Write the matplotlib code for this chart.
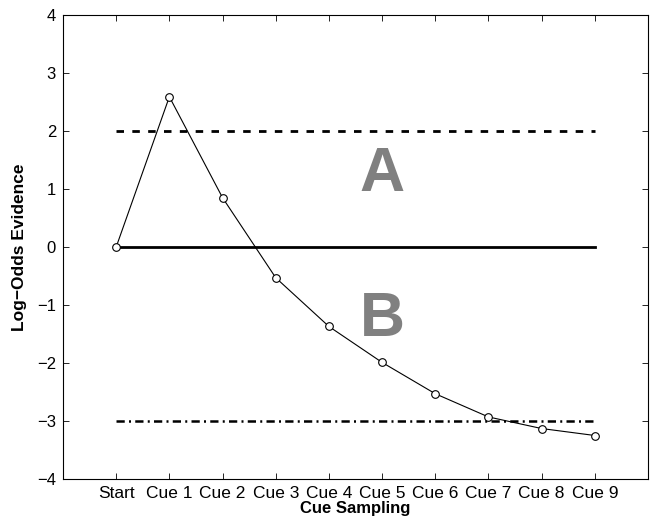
import matplotlib
matplotlib.use("Agg")
import matplotlib.pyplot as plt
import numpy as np

plt.rcParams['font.family'] = ['Liberation Sans', 'DejaVu Sans']

# dati
steps = ["Start", "Cue 1", "Cue 2", "Cue 3", "Cue 4", "Cue 5", "Cue 6", "Cue 7", "Cue 8", "Cue 9"]
evidence = [0.0, 2.59, 0.85, -0.53, -1.37, -1.99, -2.53, -2.93, -3.13, -3.25]
upper_bound = 2
lower_bound = -3

x = np.arange(1, len(steps) + 1)

fig = plt.figure(figsize=(6.5, 5.24), dpi=100)
ax = fig.add_axes([63/650, 1 - 479/524, 585/650, 464/524])

ax.plot([x[0], x[-1]], [upper_bound, upper_bound], color="black", lw=2, dashes=(2.7, 3))
ax.plot([x[0], x[-1]], [0, 0], color="black", lw=2)
ax.plot([x[0], x[-1]], [lower_bound, lower_bound], color="black", lw=1.8, dashes=(3.3, 1.7, 0.8, 1.7))

ax.plot(x, evidence, color="black", lw=0.8, marker="o", markersize=5.5,
        markerfacecolor="white", markeredgecolor="black", markeredgewidth=0.8)

ax.text(6, 1.25, "A", fontsize=45, fontweight="bold", color="#808080", ha="center", va="center")
ax.text(6, -1.25, "B", fontsize=45, fontweight="bold", color="#808080", ha="center", va="center")

ax.set_xlim(0, 11)
ax.set_ylim(-4, 4)
ax.set_xticks(x)
ax.set_xticklabels(steps, fontsize=12.5)
ax.set_yticks(np.arange(-4, 5))
ax.set_yticklabels([str(v).replace("-", "\u2212") for v in range(-4, 5)], fontsize=12)
ax.tick_params(direction="in", length=4, width=0.6, top=True, right=True, pad=5)
for s in ax.spines.values():
    s.set_linewidth(0.8)

ax.set_xlabel("Cue Sampling", fontsize=12, fontweight="bold", labelpad=0)
ax.set_ylabel("Log\u2212Odds Evidence", fontsize=12.5, fontweight="bold", labelpad=7)

fig.savefig("out.png", dpi=100)
